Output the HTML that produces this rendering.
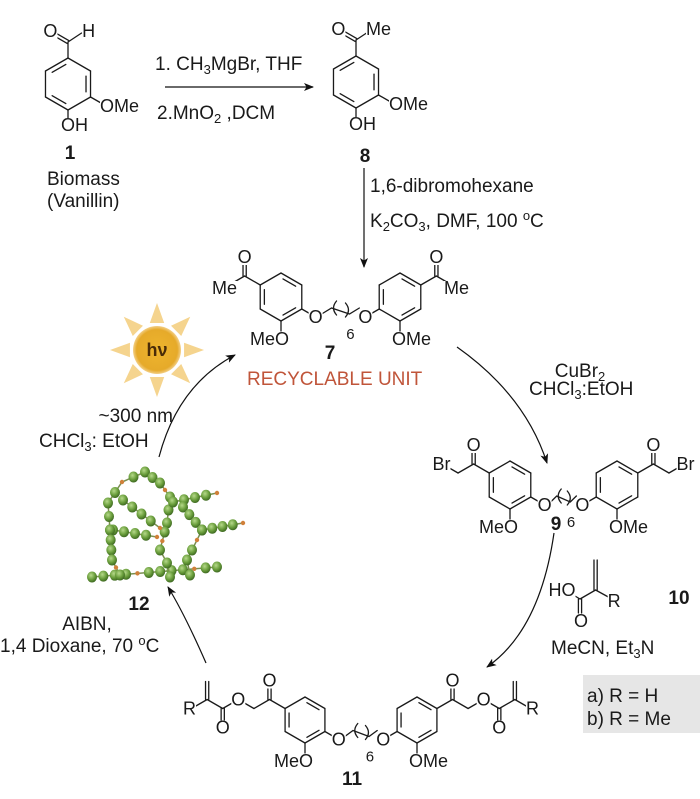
<!DOCTYPE html>
<html><head><meta charset="utf-8">
<style>
html,body{margin:0;padding:0;background:#fff;}
svg{display:block;}
text{font-family:"Liberation Sans",Arial,sans-serif;font-size:19px;fill:#1a1a1a;}
.b{font-weight:bold;}
</style></head>
<body>
<svg id="s" width="700" height="799" viewBox="0 0 700 799" xmlns="http://www.w3.org/2000/svg">
<defs>
<marker id="ar" viewBox="0 0 10 10" refX="9" refY="5" markerWidth="10" markerHeight="10" markerUnits="userSpaceOnUse" orient="auto">
<path d="M0,1 L10,5 L0,9 L2.5,5 Z" fill="#111"/>
</marker>
<radialGradient id="bead" cx="40%" cy="35%" r="65%">
<stop offset="0" stop-color="#b6d98a"/><stop offset="0.6" stop-color="#6a9e3c"/><stop offset="1" stop-color="#3f6a22"/>
</radialGradient>
<radialGradient id="sun" cx="50%" cy="50%" r="50%">
<stop offset="0" stop-color="#eeb52e"/><stop offset="0.85" stop-color="#e6aa2a"/><stop offset="1" stop-color="#f3cf86"/>
</radialGradient>
</defs>
<g id="bonds" stroke="#1a1a1a" stroke-width="1.3" fill="none" stroke-linecap="round"></g>
<g id="poly"></g>
<g id="sunG"></g>
<g stroke="#111" stroke-width="1.2" fill="none">
<line x1="165" y1="87" x2="313" y2="87" marker-end="url(#ar)"/>
<line x1="364" y1="168" x2="364" y2="267" marker-end="url(#ar)"/>
<path d="M159,457 Q178,385 235,355" marker-end="url(#ar)"/>
<path d="M457,347 Q525,395 547,463" marker-end="url(#ar)"/>
<path d="M554,533 Q540,630 487,667" marker-end="url(#ar)"/>
<path d="M206,663 Q185,615 168,587" marker-end="url(#ar)"/>
</g>
<rect x="583" y="675" width="117" height="58" fill="#e6e6e6"/>
<g id="labels"></g>
<text x="155" y="70">1. CH<tspan font-size="13" dy="4">3</tspan><tspan dy="-4">MgBr, THF</tspan></text>
<text x="157" y="119">2.MnO<tspan font-size="13" dy="4">2</tspan><tspan dy="-4"> ,DCM</tspan></text>
<text x="70" y="159" class="b" text-anchor="middle">1</text>
<text x="47" y="185">Biomass</text>
<text x="47" y="207">(Vanillin)</text>
<text x="365" y="162" class="b" text-anchor="middle">8</text>
<text x="370" y="192">1,6-dibromohexane</text>
<text x="370" y="227">K<tspan font-size="13" dy="4">2</tspan><tspan dy="-4">CO</tspan><tspan font-size="13" dy="4">3</tspan><tspan dy="-4">, DMF, 100 </tspan><tspan font-size="13" dy="-7">o</tspan><tspan dy="7">C</tspan></text>
<text x="330" y="359" class="b" text-anchor="middle">7</text>
<text x="247" y="385" style="fill:#c0553a">RECYCLABLE UNIT</text>
<text x="580" y="377" text-anchor="middle">CuBr<tspan font-size="13" dy="4">2</tspan></text>
<text x="529" y="395">CHCl<tspan font-size="13" dy="4">3</tspan><tspan dy="-4">:EtOH</tspan></text>
<text x="173" y="422" text-anchor="end">~300 nm</text>
<text x="39" y="447">CHCl<tspan font-size="13" dy="4">3</tspan><tspan dy="-4">: EtOH</tspan></text>
<text x="556" y="530" class="b" text-anchor="middle">9</text>
<text x="679" y="604" class="b" text-anchor="middle">10</text>
<text x="551" y="654">MeCN, Et<tspan font-size="13" dy="4">3</tspan><tspan dy="-4">N</tspan></text>
<text x="587" y="702">a) R = H</text>
<text x="587" y="725">b) R = Me</text>
<text x="139" y="610" class="b" text-anchor="middle">12</text>
<text x="87" y="630" text-anchor="middle">AIBN,</text>
<text x="0" y="652">1,4 Dioxane, 70 <tspan font-size="13" dy="-7">o</tspan><tspan dy="7">C</tspan></text>
<text x="352" y="785" class="b" text-anchor="middle">11</text>
</svg>
<script>
var NS="http://www.w3.org/2000/svg";
var B=document.getElementById('bonds'),Lb=document.getElementById('labels');
function ln(x1,y1,x2,y2){var e=document.createElementNS(NS,'line');e.setAttribute('x1',x1);e.setAttribute('y1',y1);e.setAttribute('x2',x2);e.setAttribute('y2',y2);B.appendChild(e);}
function pth(d){var e=document.createElementNS(NS,'path');e.setAttribute('d',d);B.appendChild(e);}
function tx(x,y,s,anc,sz){var r=document.createElementNS(NS,'rect');r.setAttribute('fill','#fff');Lb.appendChild(r);
 var e=document.createElementNS(NS,'text');e.setAttribute('x',x);e.setAttribute('y',y+6);e.setAttribute('text-anchor',anc||'middle');e.style.fontSize=(sz||18)+'px';e.textContent=s;Lb.appendChild(e);
 try{var bb=e.getBBox();r.setAttribute('x',bb.x);r.setAttribute('y',bb.y+3);r.setAttribute('width',bb.width);r.setAttribute('height',bb.height-5);}catch(err){}}
function dbl(x1,y1,x2,y2,o){var dx=x2-x1,dy=y2-y1,l=Math.hypot(dx,dy),nx=-dy/l*o,ny=dx/l*o;ln(x1+nx,y1+ny,x2+nx,y2+ny);ln(x1-nx,y1-ny,x2-nx,y2-ny);}
var c=0.866;
function ring(cx,cy,r,inner){var p=[];for(var i=0;i<6;i++){var a=(-90+60*i)*Math.PI/180;p.push([cx+r*Math.cos(a),cy+r*Math.sin(a)]);}
 for(i=0;i<6;i++){ln(p[i][0],p[i][1],p[(i+1)%6][0],p[(i+1)%6][1]);}
 inner.forEach(function(i){var a=p[i],b=p[(i+1)%6];var ax=a[0]+(cx-a[0])*0.2,ay=a[1]+(cy-a[1])*0.2,bx=b[0]+(cx-b[0])*0.2,by=b[1]+(cy-b[1])*0.2;
 var mx=bx-ax,my=by-ay;ln(ax+mx*0.12,ay+my*0.12,bx-mx*0.12,by-my*0.12);});
 return p;}
var L=18;
(function(){var cx=68,cy=84,r=26;var p=ring(cx,cy,r,[1,3,5]);
 var C=[cx,cy-r-16];ln(cx,cy-r,C[0],C[1]);
 dbl(C[0],C[1],C[0]-c*L,C[1]-0.5*L,1.6);tx(C[0]-c*L-2,C[1]-0.5*L-2,'O');
 ln(C[0],C[1],C[0]+c*L-2,C[1]-0.5*L);tx(C[0]+c*L+5,C[1]-0.5*L-2,'H');
 ln(p[2][0],p[2][1],p[2][0]+14,p[2][1]+8);tx(100,106,'OMe','start');
 ln(p[3][0],p[3][1],p[3][0],p[3][1]+10);tx(61,125,'OH','start');})();
(function(){var cx=356,cy=82,r=26;var p=ring(cx,cy,r,[1,3,5]);
 var C=[cx,cy-r-16];ln(cx,cy-r,C[0],C[1]);
 dbl(C[0],C[1],C[0]-c*L,C[1]-0.5*L,1.6);tx(C[0]-c*L-2,C[1]-0.5*L-2,'O');
 ln(C[0],C[1],C[0]+c*L-2,C[1]-0.5*L);tx(366,C[1]-0.5*L-2,'Me','start');
 ln(p[2][0],p[2][1],p[2][0]+14,p[2][1]+8);tx(389,104,'OMe','start');
 ln(p[3][0],p[3][1],p[3][0],p[3][1]+10);tx(349,124,'OH','start');})();
function core(lx,rx,cy,r,type){
 var pl=ring(lx,cy,r,[0,2,4]);var pr=ring(rx,cy,r,[0,2,4]);
 var oL=[pl[2][0]+c*16,pl[2][1]+8],oR=[pr[4][0]-c*16,pr[4][1]+8];
 ln(pl[2][0],pl[2][1],oL[0],oL[1]);ln(pr[4][0],pr[4][1],oR[0],oR[1]);
 var mx=(oL[0]+oR[0])/2,y=oL[1];var w=(oR[0]-oL[0]);
 pth('M'+(oL[0]+6)+','+(y-3)+' L'+(mx-w*0.18)+','+(y-9)+' L'+(mx+w*0.18)+','+(y-3)+' L'+(oR[0]-6)+','+(y-9));
 pth('M'+(mx-w*0.14+3)+','+(y-16)+' q-6,7 0,14');pth('M'+(mx+w*0.1)+','+(y-14)+' q6,7 0,14');
 tx(oL[0],oL[1],'O');tx(oR[0],oR[1],'O');
 tx(mx+w*0.2,y+16,'6',null,15);
 ln(pl[3][0],pl[3][1],pl[3][0],pl[3][1]+10);tx(pl[3][0]+8,pl[3][1]+18,'MeO','end');
 ln(pr[3][0],pr[3][1],pr[3][0],pr[3][1]+10);tx(pr[3][0]-8,pr[3][1]+18,'OMe','start');
 [[pl[5],-1],[pr[1],1]].forEach(function(q){var v=q[0],s=q[1];
  var C=[v[0]+s*c*L,v[1]-0.5*L];ln(v[0],v[1],C[0],C[1]);
  dbl(C[0],C[1],C[0],C[1]-L+2,1.6);tx(C[0],C[1]-L-1,'O');
  var X=[C[0]+s*c*L,C[1]+0.5*L];
  if(type==7){ln(C[0],C[1],X[0],X[1]);tx(X[0]+(s<0?8:-8),X[1]+3,'Me',s<0?'end':'start');return;}
  ln(C[0],C[1],X[0],X[1]);
  var Y=[X[0]+s*c*L,X[1]-0.5*L];ln(X[0],X[1],Y[0],Y[1]);
  if(type==9){tx(Y[0]+(s<0?8:-8),Y[1],'Br',s<0?'end':'start');return;}
  var C3=[Y[0]+s*c*L,Y[1]+0.5*L];ln(Y[0],Y[1],C3[0],C3[1]);
  tx(Y[0],Y[1],'O');
  dbl(C3[0],C3[1],C3[0],C3[1]+L-2,1.6);tx(C3[0],C3[1]+L+1,'O');
  var C4=[C3[0]+s*c*L,C3[1]-0.5*L];ln(C3[0],C3[1],C4[0],C4[1]);
  dbl(C4[0],C4[1],C4[0],C4[1]-L,1.6);
  var R=[C4[0]+s*c*L,C4[1]+0.5*L];ln(C4[0],C4[1],R[0],R[1]);tx(R[0]+(s<0?-2:2),R[1],'R');
 });}
core(281,400,297,24,7);
core(510,617,485,24,9);
core(305,417,720,23,11);
(function(){var C1=[580,599];ln(570,593,C1[0],C1[1]);tx(562,590,'HO');
 dbl(C1[0],C1[1],C1[0],C1[1]+14,1.6);tx(C1[0]+1,C1[1]+22,'O');
 var C2=[C1[0]+c*L,C1[1]-0.5*L];ln(C1[0],C1[1],C2[0],C2[1]);dbl(C2[0],C2[1],C2[0],C2[1]-L-12,1.6);
 var R=[C2[0]+c*L+3,C2[1]+0.5*L+2];ln(C2[0],C2[1],R[0]-4,R[1]-3);tx(R[0],R[1],'R');})();
(function(){var G=document.getElementById('poly');
 var lines=[[[92,577],[217,567]],
 [[110,530],[108,503],[122,482],[145,472],[160,483],[170,497],[167,523],[160,550],[167,563],[170,577]],
 [[173,502],[217,493]],[[202,530],[243,523]],[[183,507],[202,530],[187,560],[190,575]],
 [[113,530],[157,537]],[[123,500],[160,528]],[[110,530],[112,560],[120,575]]];
 lines.forEach(function(pl){var pts=[];for(var i=0;i<pl.length-1;i++){var a=pl[i],b=pl[i+1],l=Math.hypot(b[0]-a[0],b[1]-a[1]);var n=Math.max(1,Math.round(l/11));
  for(var k=0;k<n;k++)pts.push([a[0]+(b[0]-a[0])*k/n,a[1]+(b[1]-a[1])*k/n]);}
  pts.push(pl[pl.length-1]);
  var d='M'+pl.map(function(p){return p.join(',')}).join(' L');var e=document.createElementNS(NS,'path');e.setAttribute('d',d);e.setAttribute('stroke','#7a8f50');e.setAttribute('stroke-width','1.5');e.setAttribute('fill','none');G.appendChild(e);
  pts.forEach(function(p,i){var el=document.createElementNS(NS,'ellipse');el.setAttribute('cx',p[0]);el.setAttribute('cy',p[1]);el.setAttribute('rx',i%5==4?2.2:5);el.setAttribute('ry',i%5==4?2.2:5.5);el.setAttribute('fill',i%5==4?'#d0803a':'url(#bead)');G.appendChild(el);});});})();
(function(){var G=document.getElementById('sunG'),cx=157,cy=350;
 for(var i=0;i<8;i++){var a=i*Math.PI/4-Math.PI/2,w=0.26;
  var p=[[cx+28*Math.cos(a-w),cy+28*Math.sin(a-w)],[cx+47*Math.cos(a),cy+47*Math.sin(a)],[cx+28*Math.cos(a+w),cy+28*Math.sin(a+w)]];
  var e=document.createElementNS(NS,'polygon');e.setAttribute('points',p.map(function(q){return q.join(',')}).join(' '));e.setAttribute('fill','#f5d48e');G.appendChild(e);}
 var ci=document.createElementNS(NS,'circle');ci.setAttribute('cx',cx);ci.setAttribute('cy',cy);ci.setAttribute('r',24);ci.setAttribute('fill','url(#sun)');G.appendChild(ci);
 var t=document.createElementNS(NS,'text');t.setAttribute('x',cx);t.setAttribute('y',cy+6);t.setAttribute('text-anchor','middle');t.setAttribute('font-weight','bold');t.style.fill='#4a2c08';t.style.fontSize='18px';t.textContent='hν';G.appendChild(t);})();
</script>
</body></html>
